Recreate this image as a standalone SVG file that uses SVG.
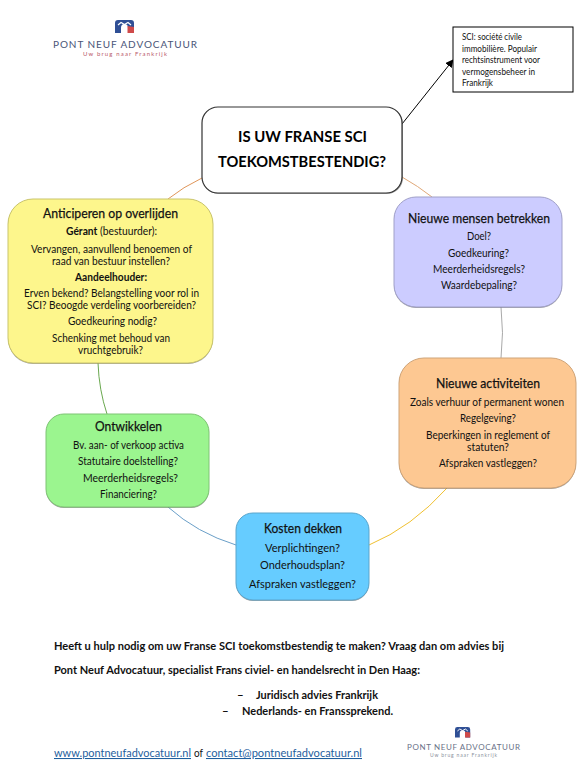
<svg xmlns="http://www.w3.org/2000/svg" width="587" height="772" viewBox="0 0 587 772">
<style>
text{font-family:Lato,"Open Sans","Liberation Sans",sans-serif;fill:#111}
.t{font-size:13.5px;stroke:#111;stroke-width:.25px}
.b{font-size:10.5px}
.bb{font-size:10.5px;font-weight:700}
.m{font-size:16px;font-weight:700;fill:#000}
.n{font-size:9px}
.f{font-size:11.5px;font-weight:700}
.l{font-size:10.5px;fill:#1f5f9e;text-decoration:underline}
.o{font-size:11.5px}
.of{font-size:10.5px}
.lg{fill:#4a5578;font-size:10px}
.lg2{fill:#6a7288;font-size:8px}
.tg{fill:#b9596b;font-size:6px}
.tg2{fill:#8a8f9c;font-size:5px}
.c{fill:none;stroke-width:1}
.s{fill:#555;opacity:.55}
</style>
<defs>
<marker id="arr" viewBox="0 0 10 10" refX="9" refY="5" markerWidth="8" markerHeight="8" orient="auto" markerUnits="userSpaceOnUse"><path d="M0 0L10 5L0 10z" fill="#000"/></marker>
<g id="icon"><path d="M0 13V3Q0 0 3 0H16Q19 0 19 3V13H13V8Q13 4 9.5 4Q6 4 6 8V13Z" fill="#2f4f95"/><path d="M12.5 13V6L19 7V13Z" fill="#cf4a4a"/><path d="M3 5L6 2.5L9.5 4.5L13 2.5L16 5" fill="none" stroke="#fff" stroke-width="1.2"/></g>
</defs>
<rect width="587" height="772" fill="#fff"/>
<g id="connectors">
<path class="c" d="M202 178Q183 187 168 199" stroke="#e0965a"/>
<path class="c" d="M402 177Q418 186 432 197" stroke="#e0a878"/>
<path class="c" d="M501 307Q504 333 501 358" stroke="#a9a9a9"/>
<path class="c" d="M447 488Q412 527 369 545" stroke="#f0c030"/>
<path class="c" d="M168 507Q197 533 236 545" stroke="#6a9fc8"/>
<path class="c" d="M98 363Q99 390 107 414" stroke="#6aa84f"/>
<line x1="402" y1="124" x2="453" y2="60" stroke="#000" stroke-width="1" marker-end="url(#arr)"/>
</g>
<g id="logo-top">
<use href="#icon" x="115" y="20"/>
<text class="lg" x="53" y="48" textLength="144" lengthAdjust="spacing">PONT NEUF ADVOCATUUR</text>
<text class="tg" x="83" y="56" textLength="84" lengthAdjust="spacing">Uw brug naar Frankrijk</text>
</g>
<g id="node-center">
<rect x="203" y="108" width="200" height="86" rx="16" class="s"/>
<rect x="202" y="107" width="200" height="86" rx="16" fill="#fff" stroke="#333" stroke-width="1.2"/>
<text class="m" x="238" y="142" textLength="129" lengthAdjust="spacingAndGlyphs">IS UW FRANSE SCI</text>
<text class="m" x="218" y="167" textLength="168" lengthAdjust="spacingAndGlyphs">TOEKOMSTBESTENDIG?</text>
</g>
<g id="node-note">
<rect x="453" y="27" width="120" height="65" fill="#fff" stroke="#000" stroke-width="1"/>
<text class="n" x="462" y="40" textLength="60" lengthAdjust="spacingAndGlyphs">SCI: société civile</text>
<text class="n" x="462" y="52" textLength="75" lengthAdjust="spacingAndGlyphs">immobilière. Populair</text>
<text class="n" x="462" y="63" textLength="78" lengthAdjust="spacingAndGlyphs">rechtsinstrument voor</text>
<text class="n" x="462" y="75" textLength="73" lengthAdjust="spacingAndGlyphs">vermogensbeheer in</text>
<text class="n" x="462" y="86" textLength="31" lengthAdjust="spacingAndGlyphs">Frankrijk</text>
</g>
<g id="node-anticiperen">
<rect x="8" y="200" width="205" height="164" rx="25" class="s"/>
<rect x="8" y="199" width="205" height="164" rx="25" fill="#fdf68c" stroke="#c9c46a"/>
<text class="t" x="43" y="218" textLength="135" lengthAdjust="spacingAndGlyphs">Anticiperen op overlijden</text>
<text class="b" x="66" y="235" textLength="91" lengthAdjust="spacingAndGlyphs"><tspan font-weight="700">Gérant</tspan> (bestuurder):</text>
<text class="b" x="31" y="253" textLength="161" lengthAdjust="spacingAndGlyphs">Vervangen, aanvullend benoemen of</text>
<text class="b" x="52" y="264.5" textLength="118" lengthAdjust="spacingAndGlyphs">raad van bestuur instellen?</text>
<text class="bb" x="75" y="281" textLength="72" lengthAdjust="spacingAndGlyphs">Aandeelhouder:</text>
<text class="b" x="24" y="297" textLength="175" lengthAdjust="spacingAndGlyphs">Erven bekend? Belangstelling voor rol in</text>
<text class="b" x="27" y="309" textLength="169" lengthAdjust="spacingAndGlyphs">SCI? Beoogde verdeling voorbereiden?</text>
<text class="b" x="68" y="325" textLength="89" lengthAdjust="spacingAndGlyphs">Goedkeuring nodig?</text>
<text class="b" x="52" y="342" textLength="118" lengthAdjust="spacingAndGlyphs">Schenking met behoud van</text>
<text class="b" x="78" y="353.5" textLength="65" lengthAdjust="spacingAndGlyphs">vruchtgebruik?</text>
</g>
<g id="node-mensen">
<rect x="394" y="198" width="168" height="110" rx="22" class="s"/>
<rect x="394" y="197" width="168" height="110" rx="22" fill="#ccccff" stroke="#a0a0c8"/>
<text class="t" x="408" y="223" textLength="142" lengthAdjust="spacingAndGlyphs">Nieuwe mensen betrekken</text>
<text class="b" x="467" y="240" textLength="24" lengthAdjust="spacingAndGlyphs">Doel?</text>
<text class="b" x="448" y="257" textLength="61" lengthAdjust="spacingAndGlyphs">Goedkeuring?</text>
<text class="b" x="433" y="273" textLength="92" lengthAdjust="spacingAndGlyphs">Meerderheidsregels?</text>
<text class="b" x="441" y="289" textLength="76" lengthAdjust="spacingAndGlyphs">Waardebepaling?</text>
</g>
<g id="node-activiteiten">
<rect x="399" y="359" width="177" height="130" rx="25" class="s"/>
<rect x="399" y="358" width="177" height="130" rx="25" fill="#fdc892" stroke="#cfa478"/>
<text class="t" x="436" y="388" textLength="104" lengthAdjust="spacingAndGlyphs">Nieuwe activiteiten</text>
<text class="b" x="410" y="406" textLength="154" lengthAdjust="spacingAndGlyphs">Zoals verhuur of permanent wonen</text>
<text class="b" x="460" y="422" textLength="56" lengthAdjust="spacingAndGlyphs">Regelgeving?</text>
<text class="b" x="426" y="439" textLength="124" lengthAdjust="spacingAndGlyphs">Beperkingen in reglement of</text>
<text class="b" x="467" y="451" textLength="42" lengthAdjust="spacingAndGlyphs">statuten?</text>
<text class="b" x="439" y="467" textLength="98" lengthAdjust="spacingAndGlyphs">Afspraken vastleggen?</text>
</g>
<g id="node-ontwikkelen">
<rect x="46" y="415" width="163" height="93" rx="18" class="s"/>
<rect x="46" y="414" width="163" height="93" rx="18" fill="#9bf58f" stroke="#7ec474"/>
<text class="t" x="95" y="431" textLength="67" lengthAdjust="spacingAndGlyphs">Ontwikkelen</text>
<text class="b" x="73" y="449" textLength="111" lengthAdjust="spacingAndGlyphs">Bv. aan- of verkoop activa</text>
<text class="b" x="78" y="465" textLength="100" lengthAdjust="spacingAndGlyphs">Statutaire doelstelling?</text>
<text class="b" x="83" y="482" textLength="95" lengthAdjust="spacingAndGlyphs">Meerderheidsregels?</text>
<text class="b" x="100" y="498" textLength="57" lengthAdjust="spacingAndGlyphs">Financiering?</text>
</g>
<g id="node-kosten">
<rect x="236" y="514" width="133" height="87" rx="17" class="s"/>
<rect x="236" y="513" width="133" height="87" rx="17" fill="#66ccff" stroke="#5aa5cc"/>
<text class="t" x="264" y="533" textLength="78" lengthAdjust="spacingAndGlyphs">Kosten dekken</text>
<text class="o" x="265" y="552" textLength="75" lengthAdjust="spacingAndGlyphs">Verplichtingen?</text>
<text class="o" x="260" y="569" textLength="85" lengthAdjust="spacingAndGlyphs">Onderhoudsplan?</text>
<text class="o" x="249" y="588" textLength="107" lengthAdjust="spacingAndGlyphs">Afspraken vastleggen?</text>
</g>
<g id="footer">
<text class="f" x="54" y="650" textLength="450" lengthAdjust="spacingAndGlyphs">Heeft u hulp nodig om uw Franse SCI toekomstbestendig te maken? Vraag dan om advies bij</text>
<text class="f" x="54" y="674" textLength="366" lengthAdjust="spacingAndGlyphs">Pont Neuf Advocatuur, specialist Frans civiel- en handelsrecht in Den Haag:</text>
<text class="f" x="237" y="699">–</text>
<text class="f" x="256" y="699" textLength="122" lengthAdjust="spacingAndGlyphs">Juridisch advies Frankrijk</text>
<text class="f" x="222" y="715">–</text>
<text class="f" x="242" y="715" textLength="151" lengthAdjust="spacingAndGlyphs">Nederlands- en Franssprekend.</text>
<text class="l" x="54" y="757" textLength="137" lengthAdjust="spacingAndGlyphs">www.pontneufadvocatuur.nl</text>
<text class="of" x="194" y="757" textLength="9" lengthAdjust="spacingAndGlyphs">of</text>
<text class="l" x="206" y="757" textLength="156" lengthAdjust="spacingAndGlyphs">contact@pontneufadvocatuur.nl</text>
</g>
<g id="logo-bottom">
<use href="#icon" transform="translate(455 727) scale(.8)"/>
<text class="lg2" x="407" y="750" textLength="113" lengthAdjust="spacing">PONT NEUF ADVOCATUUR</text>
<text class="tg2" x="430" y="757" textLength="67" lengthAdjust="spacing">Uw brug naar Frankrijk</text>
</g>
</svg>
